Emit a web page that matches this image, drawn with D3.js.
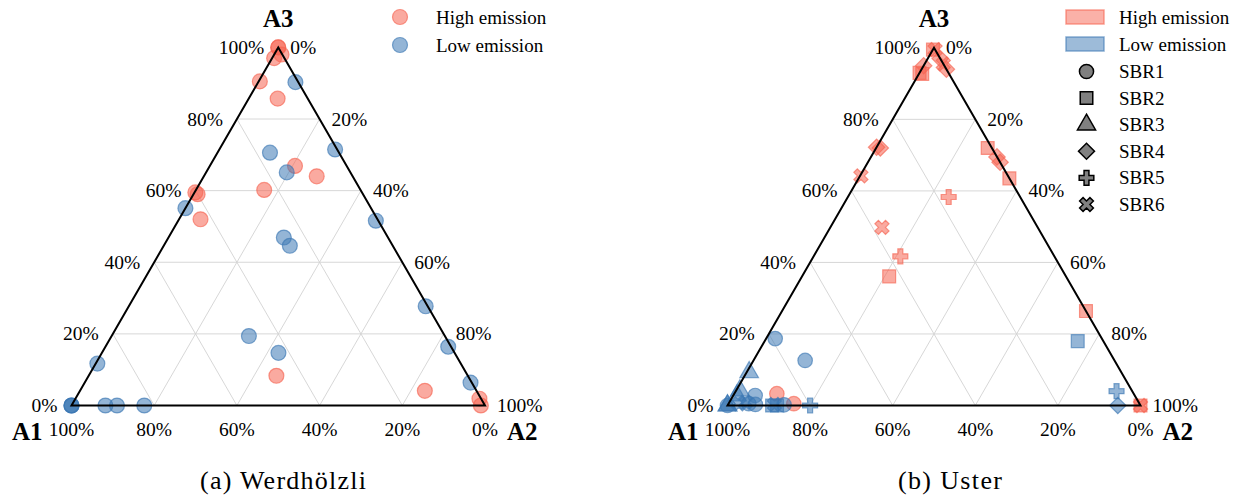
<!DOCTYPE html>
<html>
<head>
<meta charset="utf-8">
<script src="https://cdn.jsdelivr.net/npm/d3@7"></script>
<style>
  html, body { margin: 0; padding: 0; background: #fff; }
  svg { display: block; }
</style>
</head>
<body>
<svg id="chart" width="1236" height="495"></svg>
<script>
// Composition shares [A1, A2, A3] of each sample (fractions summing to 1)

// Werdhölzli
const werdHigh = [
  [0, 0, 1], [0, 0, 1], [0.025, 0.005, 0.97], [0.002, 0.018, 0.98],
  [0.092, 0.003, 0.905], [0.073, 0.07, 0.857], [0.125, 0.206, 0.669],
  [0.087, 0.273, 0.64], [0.233, 0.165, 0.602], [0.403, 0.002, 0.595],
  [0.40, 0.01, 0.59], [0.428, 0.052, 0.52], [0.463, 0.454, 0.083],
  [0.125, 0.834, 0.041], [0.004, 0.977, 0.019], [0.01, 0.99, 0]
];
const werdLow = [
  [1, 0, 0], [1, 0, 0], [1, 0, 0], [0.918, 0.082, 0], [0.89, 0.11, 0],
  [0.824, 0.176, 0], [0.879, 0.004, 0.117], [0.474, 0.332, 0.194],
  [0.426, 0.427, 0.147], [0.007, 0.09, 0.903], [0.167, 0.127, 0.706],
  [0.005, 0.28, 0.715], [0.154, 0.195, 0.651], [0.449, 0, 0.551],
  [0.006, 0.478, 0.516], [0.252, 0.279, 0.469], [0.249, 0.305, 0.446],
  [0.005, 0.718, 0.277], [0.007, 0.829, 0.164], [0.003, 0.933, 0.064]
];

// Uster, with the reactor of each sample
const usterHigh = [
  [0.005, 0, 0.995, "SBR2"], [0, 0.005, 0.995, "SBR6"], [0.05, 0, 0.95, "SBR4"],
  [0.07, 0, 0.93, "SBR2"], [0.065, 0.008, 0.927, "SBR2"], [0, 0.03, 0.97, "SBR4"],
  [0, 0.045, 0.955, "SBR6"], [0, 0.06, 0.94, "SBR4"], [0.278, 0, 0.722, "SBR4"],
  [0.27, 0.01, 0.72, "SBR4"], [0.356, 0.002, 0.642, "SBR6"], [0.01, 0.27, 0.72, "SBR2"],
  [0, 0.305, 0.695, "SBR4"], [0, 0.32, 0.68, "SBR4"], [0, 0.365, 0.635, "SBR2"],
  [0.173, 0.244, 0.583, "SBR5"], [0.377, 0.125, 0.498, "SBR6"], [0.373, 0.21, 0.417, "SBR5"],
  [0.428, 0.211, 0.361, "SBR2"], [0, 0.736, 0.264, "SBR2"], [0, 1, 0, "SBR2"],
  [0, 1, 0, "SBR6"], [0.864, 0.103, 0.033, "SBR1"], [0.837, 0.158, 0.005, "SBR1"]
];
const usterLow = [
  [1, 0, 0, "SBR3"], [1, 0, 0, "SBR3"], [1, 0, 0, "SBR1"], [0.97, 0.025, 0.005, "SBR6"],
  [0.901, 0.006, 0.093, "SBR3"], [0.949, 0.009, 0.042, "SBR3"], [0.963, 0.009, 0.028, "SBR3"],
  [0.919, 0.053, 0.028, "SBR1"], [0.952, 0.039, 0.009, "SBR6"], [0.946, 0.049, 0.005, "SBR1"],
  [0.931, 0.066, 0.003, "SBR1"], [0.892, 0.108, 0, "SBR2"], [0.88, 0.12, 0, "SBR2"],
  [0.885, 0.112, 0.003, "SBR6"], [0.862, 0.136, 0.002, "SBR1"], [0.8, 0.2, 0, "SBR5"],
  [0.791, 0.022, 0.187, "SBR1"], [0.749, 0.125, 0.126, "SBR1"], [0.062, 0.758, 0.18, "SBR2"],
  [0.038, 0.922, 0.04, "SBR5"], [0.055, 0.945, 0, "SBR4"]
];

const tickValues = [0, 0.2, 0.4, 0.6, 0.8, 1];
const tickLabels = ["0%", "20%", "40%", "60%", "80%", "100%"];
const gridValues = [0.2, 0.4, 0.6, 0.8];
const seriesNames = ["High emission", "Low emission"];
const reactors = ["SBR1", "SBR2", "SBR3", "SBR4", "SBR5", "SBR6"];

const colors = { high: "rgb(246,100,82)", low: "rgb(60,120,180)" };
const FONT = "'Liberation Serif'";
const TICK_SIZE = 19.5;

// Filled marker shapes per reactor (SBR4 is a turned square, SBR6 a turned cross)
const shapeOf = {
  SBR1: { type: d3.symbolCircle, size: 165, rot: 0 },
  SBR2: { type: d3.symbolSquare, size: 165, rot: 0 },
  SBR3: { type: d3.symbolTriangle, size: 150, rot: 0 },
  SBR4: { type: d3.symbolSquare, size: 135, rot: 45 },
  SBR5: { type: d3.symbolCross, size: 125, rot: 0 },
  SBR6: { type: d3.symbolCross, size: 125, rot: 45 }
};

const svg = d3.select("#chart");
const SQ3 = Math.sqrt(3) / 2;

function addText(sel, x, y, str, anchor, size, weight) {
  return sel.append("text")
    .attr("x", x).attr("y", y)
    .style("font-family", FONT)
    .attr("font-size", size)
    .attr("font-weight", weight || "normal")
    .attr("text-anchor", anchor)
    .attr("dominant-baseline", "central")
    .attr("fill", "#000")
    .text(str);
}

function panel(opts) {
  const { x0, L, baseY } = opts;
  const g = svg.append("g");
  const xs = d3.scaleLinear().domain([0, 1]).range([x0, x0 + L]);
  const ys = d3.scaleLinear().domain([0, 1]).range([baseY, baseY - L * SQ3]);
  const proj = (a1, a2, a3) => [xs(a2 + a3 / 2), ys(a3)];
  const line = d3.line();

  // grid
  const grid = g.append("g").attr("fill", "none").attr("stroke", "#d2d2d2").attr("stroke-width", 0.9);
  gridValues.forEach(v => {
    grid.append("path").attr("d", line([proj(1 - v, 0, v), proj(0, 1 - v, v)]));
    grid.append("path").attr("d", line([proj(v, 1 - v, 0), proj(v, 0, 1 - v)]));
    grid.append("path").attr("d", line([proj(1 - v, v, 0), proj(0, v, 1 - v)]));
  });

  // points
  const pts = g.append("g");
  opts.series.forEach(s => {
    s.data.forEach(d => {
      const [px, py] = proj(d[0], d[1], d[2]);
      const sh = s.shape ? shapeOf[d[3]] : shapeOf.SBR1;
      pts.append("path")
        .attr("d", d3.symbol().type(sh.type).size(s.shape ? sh.size : 175)())
        .attr("transform", `translate(${px},${py}) rotate(${sh.rot})`)
        .attr("fill", s.color).attr("fill-opacity", 0.55)
        .attr("stroke", s.color).attr("stroke-opacity", 0.65).attr("stroke-width", 1.2);
    });
  });

  // triangle outline
  g.append("path")
    .attr("d", line([proj(1, 0, 0), proj(0, 1, 0), proj(0, 0, 1)]) + "Z")
    .attr("fill", "none").attr("stroke", "#000").attr("stroke-width", 2)
    .attr("stroke-linejoin", "miter");

  // tick labels on the three sides
  const tl = g.append("g");
  tickValues.forEach((v, i) => {
    const l = proj(1 - v, 0, v);
    addText(tl, l[0] - 14, l[1], tickLabels[i], "end", TICK_SIZE);
    const r = proj(0, v, 1 - v);
    addText(tl, r[0] + 12, r[1], tickLabels[i], "start", TICK_SIZE);
    const b = proj(v, 1 - v, 0);
    addText(tl, b[0], b[1] + 24, tickLabels[i], "middle", TICK_SIZE);
  });

  // corner titles
  const c1 = proj(1, 0, 0), c2 = proj(0, 1, 0), c3 = proj(0, 0, 1);
  addText(g, c1[0] - 29, c1[1] + 26, "A1", "end", 25, "bold");
  addText(g, c2[0] + 22, c2[1] + 26, "A2", "start", 25, "bold");
  addText(g, c3[0], 18, "A3", "middle", 25, "bold");

  // caption
  addText(g, opts.captionX, 480, opts.caption, "middle", 26)
    .attr("textLength", opts.captionLen).attr("lengthAdjust", "spacing");
  return g;
}

panel({
  x0: 71.5, L: 413.5, baseY: 405.5,
  series: [
    { data: werdHigh, color: colors.high },
    { data: werdLow, color: colors.low }
  ],
  caption: "(a) Werdhölzli", captionX: 283, captionLen: 166
});

panel({
  x0: 727.5, L: 413, baseY: 405.5,
  series: [
    { data: usterHigh, color: colors.high, shape: true },
    { data: usterLow, color: colors.low, shape: true }
  ],
  caption: "(b) Uster", captionX: 950, captionLen: 104
});

// legend of the first panel
const leg1 = svg.append("g");
[colors.high, colors.low].forEach((c, i) => {
  const y = 17 + i * 28;
  leg1.append("circle").attr("cx", 400).attr("cy", y).attr("r", 7.5)
    .attr("fill", c).attr("fill-opacity", 0.55)
    .attr("stroke", c).attr("stroke-opacity", 0.65).attr("stroke-width", 1.2);
  addText(leg1, 436, y, seriesNames[i], "start", 19);
});

// legend of the second panel
const leg2 = svg.append("g");
[colors.high, colors.low].forEach((c, i) => {
  const y = 17 + i * 27;
  leg2.append("rect").attr("x", 1066).attr("y", y - 7).attr("width", 38).attr("height", 14)
    .attr("fill", c).attr("fill-opacity", 0.5)
    .attr("stroke", c).attr("stroke-opacity", 0.6).attr("stroke-width", 1.5);
  addText(leg2, 1119, y, seriesNames[i], "start", 19);
});
reactors.forEach((r, i) => {
  const y = 71.5 + i * 26.6;
  const sh = shapeOf[r];
  leg2.append("path")
    .attr("d", d3.symbol().type(sh.type).size(sh.size * 0.95)())
    .attr("transform", `translate(1086.5,${y}) rotate(${sh.rot})`)
    .attr("fill", "#808080").attr("stroke", "#000").attr("stroke-width", 1.5);
  addText(leg2, 1119, y, r, "start", 19);
});
</script>
</body>
</html>
